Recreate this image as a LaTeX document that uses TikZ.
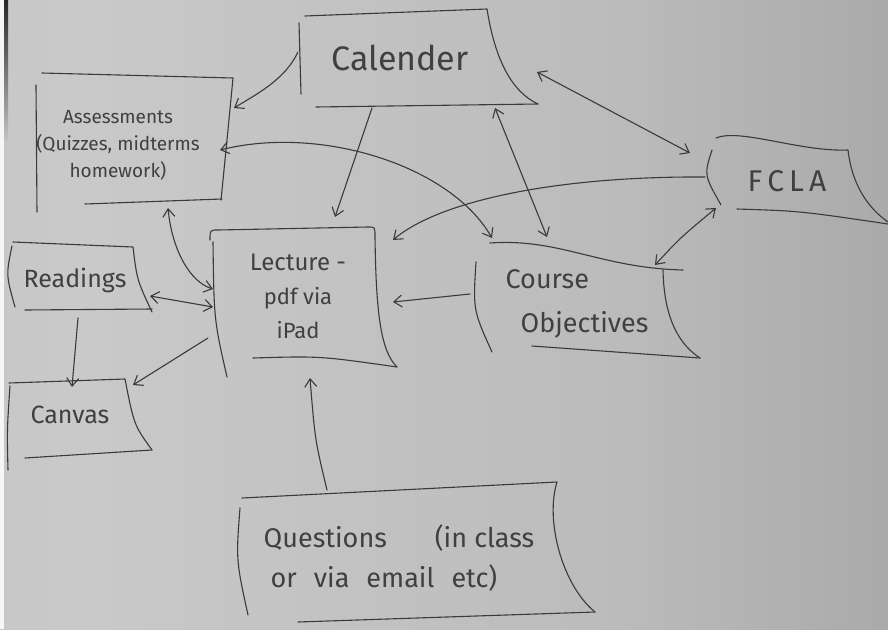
\documentclass[tikz,border=0pt]{standalone}
\usepackage{fontspec}
\setmainfont{Fira Sans}
\usetikzlibrary{arrows.meta}

\definecolor{inkc}{HTML}{3A3A3A}
\definecolor{txtc}{HTML}{404040}
\definecolor{pA}{HTML}{C2C2C2}
\definecolor{pB}{HTML}{C9C9C9}
\definecolor{pC}{HTML}{BBBBBB}
\definecolor{pD}{HTML}{8E8E8E}
\pgfdeclarehorizontalshading{paper}{100bp}{color(0bp)=(pA); color(30bp)=(pB); color(60bp)=(pC); color(100bp)=(pD)}

\tikzset{
  ink/.style={draw=inkc, line width=1.1pt, line cap=round, line join=round},
  tip/.tip={Straight Barb[length=8pt,width=12pt]},
  arr/.style={ink, -tip},
  darr/.style={ink, tip-tip},
  frame/.style={inner sep=0pt, minimum width=#1},
  txt/.style={inner sep=0pt, text=txtc, align=center},
  fs/.style n args={2}{font=\fontsize{#1}{#2}\selectfont}
}

\begin{document}
\begin{tikzpicture}[x=1pt,y=-1pt]
  % sheet of paper
  \useasboundingbox (0,0) rectangle (888,629);
  \shade[shading=paper] (0,0) rectangle (888,629);
  \fill[white!85!pA] (0,0) rectangle (4,629);
  \shade[top color=black!85, bottom color=pA] (4,0) rectangle (8,140);

  % box areas, used as connector targets
  \node[frame=187pt, minimum height=129pt] (asm)  at (131,140) {};
  \node[frame=220pt, minimum height=94pt]  (cal)  at (410,59)  {};
  \node[frame=163pt, minimum height=70pt]  (fcla) at (793,180) {};
  \node[frame=135pt, minimum height=65pt]  (read) at (77,277)  {};
  \node[frame=131pt, minimum height=74pt]  (canv) at (74,418)  {};
  \node[frame=170pt, minimum height=135pt] (lec)  at (300,297) {};
  \node[frame=210pt, minimum height=97pt]  (obj)  at (585,303) {};
  \node[frame=330pt, minimum height=127pt] (q)    at (405,553) {};

  % box texts
  \node[txt, fs={19}{27}] (asm-t) at (118,145)
    {Assessments\\(Quizzes, midterms\\homework)};
  \node[txt, fs={34}{40}] (cal-t) at (400,58) {Calender};
  \node[txt, fs={30}{36}] (fcla-t) at (787,181) {F\,C\,L\,A};
  \node[txt, fs={25}{30}] (read-t) at (75,280) {Readings};
  \node[txt, fs={25}{30}] (canv-t) at (70,415) {Canvas};
  \node[txt, fs={22}{34}] (lec-t) at (298,296)
    {{\fontsize{24}{34}\selectfont Lecture -}\\pdf via\\iPad};
  \node[txt, fs={27}{44}, align=left] (obj-t) at (577,304)
    {Course\\\hspace*{15pt}Objectives};
  \node[txt, fs={27}{40}, align=left] (q-t) at (399,558)
    {Questions\hspace{48pt}(in class\\\hspace*{7pt}{\spaceskip=17pt or via email etc)}};

  % hand-drawn frames
  % Assessments
  \draw[ink] (42,73) -- (233,78) .. controls (228,130) .. (221,200);
  \draw[ink] (85,204) -- (222,199);
  \draw[ink] (36,85) -- (37,212);
  % Calender
  \draw[ink] (305,16) -- (487,9) .. controls (495,60) and (512,92) .. (538,104);
  \draw[ink] (316,107) -- (538,104);
  \draw[ink] (299,23) -- (301,94);
  % FCLA
  \draw[ink] (716,138) .. controls (740,128) and (800,152) .. (848,150)
    .. controls (852,185) and (868,208) .. (888,222);
  \draw[ink] (712,150) .. controls (704,175) .. (721,205);
  \draw[ink] (737,209) .. controls (800,211) .. (888,224);
  % Readings
  \draw[ink] (13,242) -- (133,247) .. controls (137,280) .. (152,312);
  \draw[ink] (25,310) -- (152,309);
  \draw[ink] (12,246) .. controls (6,275) .. (15,307);
  % Canvas
  \draw[ink] (9,383) -- (125,379) .. controls (134,425) .. (152,450);
  \draw[ink] (25,458) -- (152,450);
  \draw[ink] (10,386) .. controls (7,430) .. (8,470);
  % Lecture
  \draw[ink] (210,240) .. controls (210,230) .. (218,230) -- (368,227)
    .. controls (375,227) .. (375,236) .. controls (376,320) and (382,352) .. (397,367);
  \draw[ink] (253,358) .. controls (320,356) .. (397,367);
  \draw[ink] (213,242) .. controls (214,320) .. (227,377);
  % Course Objectives
  \draw[ink] (490,243) .. controls (560,238) and (600,268) .. (683,270);
  \draw[ink] (663,270) .. controls (664,320) and (680,345) .. (700,358);
  \draw[ink] (532,346) -- (700,358);
  \draw[ink] (476,262) .. controls (473,310) .. (492,352);
  % Questions
  \draw[ink] (242,498) -- (557,482) .. controls (545,520) and (562,585) .. (595,612);
  \draw[ink] (298,622) -- (595,612);
  \draw[ink] (240,508) .. controls (236,560) .. (248,615);

  % connectors
  \draw[arr] (cal.center) ++(-112,-7) .. controls (285,80) and (255,95) .. ([shift={(103,-32)}]asm.center);
  \draw[darr] ([shift={(89,10)}]asm.center) .. controls (320,125) and (450,165) .. ([shift={(-93,-65)}]obj.center);
  \draw[arr] ([shift={(-38,49)}]cal.center) -- ([shift={(35,-80)}]lec.center);
  \draw[darr] ([shift={(85,49)}]cal.center) -- ([shift={(-38,-66)}]obj.center);
  \draw[arr] ([shift={(-88,-3)}]fcla.center) .. controls (560,176) and (440,200) .. ([shift={(93,-57)}]lec.center);
  \draw[darr] ([shift={(127,13)}]cal.center) -- ([shift={(-103,-27)}]fcla.center);
  \draw[darr] ([shift={(70,-38)}]obj.center) .. controls (680,238) .. ([shift={(-77,28)}]fcla.center);
  \draw[arr] ([shift={(-115,-9)}]obj.center) -- ([shift={(93,5)}]lec.center);
  \draw[darr] ([shift={(73,19)}]read.center) -- ([shift={(-87,10)}]lec.center);
  \draw[darr] ([shift={(37,68)}]asm.center) .. controls (172,250) and (190,282) .. ([shift={(-87,-8)}]lec.center);
  \draw[arr] ([shift={(1,41)}]read.center) -- ([shift={(-2,-31)}]canv.center);
  \draw[arr] ([shift={(-92,41)}]lec.center) -- ([shift={(59,-33)}]canv.center);
  \draw[arr] ([shift={(-78,-63)}]q.center) .. controls (315,440) .. ([shift={(10,81)}]lec.center);
\end{tikzpicture}
\end{document}
